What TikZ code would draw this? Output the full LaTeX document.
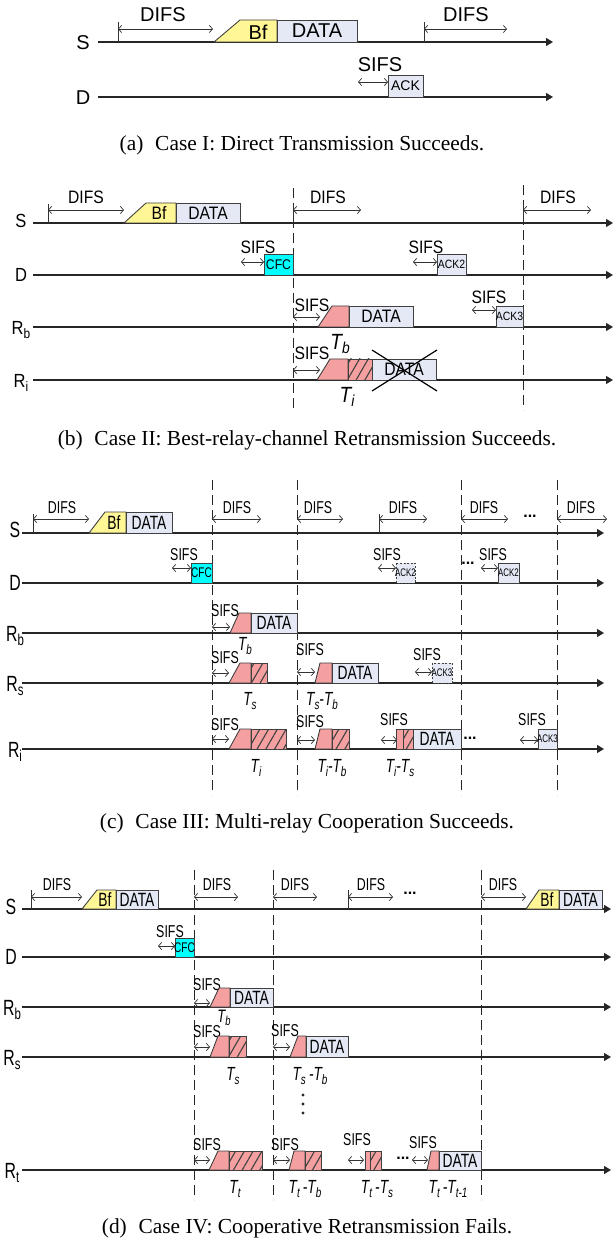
\documentclass[tikz,border=0pt]{standalone}
\usepackage{fontspec}
\usepackage{graphicx}
\setmainfont{Liberation Serif}
\newfontfamily\fA{Liberation Sans}
\newfontfamily\fB[FakeStretch=0.87]{Liberation Sans}
\newfontfamily\fC[FakeStretch=0.72]{Liberation Sans}
\usetikzlibrary{arrows.meta,patterns.meta}
\definecolor{bfy}{RGB}{255,246,150}
\definecolor{datab}{RGB}{228,233,245}
\definecolor{pnk}{RGB}{245,160,160}
\definecolor{cfc}{RGB}{0,255,255}
\newcommand\fs[1]{\fontsize{#1}{#1}\selectfont}
\newcommand\sbs[1]{\raisebox{-0.35ex}{\scalebox{0.72}{#1}}}
\tikzset{
 tl/.style={line width=0.65pt, draw=black!85, -{Triangle[length=3.5pt,width=4pt]}},
 span/.style={line width=0.35pt, draw=black!80, {Straight Barb[length=1.6pt,width=3.6pt]}-{Straight Barb[length=1.6pt,width=3.6pt]}},
 tk/.style={line width=0.45pt, draw=black!80},
 vd/.style={line width=0.5pt, draw=black!85, dash pattern=on 5pt off 2.5pt},
 bx/.style={line width=0.45pt, draw=black!75},
 dbx/.style={line width=0.45pt, draw=black!75, dash pattern=on 1pt off 0.8pt},
 every node/.style={inner sep=0pt, outer sep=0pt},
 captxt/.style={font=\fs{10.7}},
}
\newcommand\lspan[7]{\draw[span] (#1,#3) -- (#2,#3); \node[font=#7] at (#5,#6) {#4};}
\newcommand\tick[3]{\draw[tk] (#1,#2) -- (#1,#3);}
\newcommand\trap[6]{\filldraw[bx,fill=#6] (#1,#5) -- (#2,#4) -- (#3,#4) -- (#3,#5) -- cycle;}
\newcommand\rbox[7]{\filldraw[bx,fill=#5] (#1,#3) rectangle (#2,#4); \node[font=#6] at ({(#1+#2)/2},{(#3+#4)/2}) {#7};}
\newcommand\dbox[7]{\filldraw[dbx,fill=#5] (#1,#3) rectangle (#2,#4); \node[font=#6] at ({(#1+#2)/2},{(#3+#4)/2}) {#7};}
\newcommand\hbx[4]{\fill[pnk] (#1,#3) rectangle (#2,#4); \fill[pattern={Lines[angle=60,distance=3.8pt,line width=0.55pt]},pattern color=black!75] (#1,#3) rectangle (#2,#4); \draw[bx] (#1,#3) rectangle (#2,#4);}
\begin{document}
\begin{tikzpicture}[x=0.5pt,y=-0.5pt]
\useasboundingbox (0,0) rectangle (615,1240);
% ================= (a)
\def\Fa{\fA\fs{10}}
\draw[tl] (98,42) -- (553,42);
\draw[tl] (98,97) -- (553,97);
\node[font=\Fa] (Sa) at (83,43) {S};
\node[font=\Fa] (Da) at (83,98) {D};
\tick{118}{42}{22}
\lspan{118}{213}{29}{DIFS}{163}{15}{\Fa}
\trap{214}{240}{277}{20}{42}{bfy}
\node[font=\Fa] (bfa) at (258,32) {Bf};
\rbox{277}{357}{20}{42}{datab}{\Fa}{DATA}
\tick{424}{42}{22}
\lspan{424}{507}{29}{DIFS}{466}{15}{\Fa}
\lspan{358}{388}{82}{SIFS}{380}{65}{\Fa}
\rbox{388}{423}{75}{97}{datab}{\fA\fs{7}}{ACK}
\node[captxt] (capa) at (302,145) {(a)\hspace{0.55em}Case I: Direct Transmission Succeeds.};
% ================= (b)
\def\Fb{\fB\fs{9}}
\foreach \yy in {223,275,327,380} {\draw[tl] (33,\yy) -- (613,\yy);}
\node[font=\fB\fs{9.5}] (Sb) at (21,221) {S};
\node[font=\fB\fs{9.5}] (Db) at (21,275) {D};
\node[font=\fB\fs{9.5}] (Rbb) at (21,330) {R\sbs{b}};
\node[font=\fB\fs{9.5}] (Rib) at (21,383) {R\sbs{i}};
\draw[vd] (293,188) -- (293,410);
\draw[vd] (523,185) -- (523,410);
\tick{48}{223}{204}
\lspan{48}{124}{210}{DIFS}{86}{197}{\Fb}
\trap{124}{146}{176}{203}{223}{bfy}
\node[font=\Fb] (bfb) at (159,213) {Bf};
\rbox{176}{240}{203}{223}{datab}{\Fb}{DATA}
\tick{293}{223}{205}
\lspan{293}{361}{210}{DIFS}{328}{197}{\Fb}
\tick{523}{223}{205}
\lspan{523}{591}{210}{DIFS}{558}{197}{\Fb}
\lspan{241}{264}{262}{SIFS}{258}{247}{\Fb}
\rbox{264}{293}{254}{275}{cfc}{\fB\fs{7}}{CFC}
\lspan{413}{437}{262}{SIFS}{426}{247}{\Fb}
\rbox{437}{466}{254}{275}{datab}{\fB\fs{6}}{ACK2}
\lspan{293}{320}{317}{SIFS}{312}{305}{\Fb}
\trap{318}{332}{349}{306}{327}{pnk}
\rbox{349}{413}{306}{327}{datab}{\Fb}{DATA}
\node[font=\fB\itshape\fs{11}] (Tbb) at (340,344) {T\sbs{b}};
\lspan{472}{496}{310}{SIFS}{489}{297}{\Fb}
\rbox{496}{523}{306}{327}{datab}{\fB\fs{6}}{ACK3}
\lspan{293}{320}{370}{SIFS}{312}{353}{\Fb}
\trap{317}{330}{348}{359}{380}{pnk}
\hbx{348}{372}{359}{380}
\rbox{372}{436}{359}{380}{datab}{\Fb}{DATA}
\draw[line width=0.6pt] (372,350) -- (437,391);
\draw[line width=0.6pt] (372,391) -- (437,350);
\node[font=\fB\itshape\fs{11}] (Tib) at (347,397) {T\sbs{i}};
\node[captxt] (capb) at (307,440) {(b)\hspace{0.55em}Case II: Best-relay-channel Retransmission Succeeds.};
% ================= (c)
\def\Fc{\fC\fs{8.6}}
\def\Fd{\fC\fs{9.6}}
\def\Ft{\fC\itshape\fs{9.5}}
\foreach \yy in {533,583,633,683,749} {\draw[tl] (22,\yy) -- (604,\yy);}
\node[font=\fC\fs{11}] (Sc) at (15,530) {S};
\node[font=\fC\fs{11}] (Dc) at (15,583) {D};
\node[font=\fC\fs{11}] (Rbc) at (15,636) {R\sbs{b}};
\node[font=\fC\fs{11}] (Rsc) at (15,686) {R\sbs{s}};
\node[font=\fC\fs{11}] (Ric) at (15,752) {R\sbs{i}};
\foreach \xx in {212,297,461,557} {\draw[vd] (\xx,480) -- (\xx,795);}
\tick{33}{533}{514}
\lspan{33}{89}{519}{DIFS}{62}{508}{\Fc}
\trap{89}{105}{126}{512}{533}{bfy}
\node[font=\Fd] (bfc) at (114,523) {Bf};
\rbox{126}{172}{512}{533}{datab}{\Fd}{DATA}
\lspan{212}{261}{519}{DIFS}{237}{508}{\Fc}
\lspan{297}{343}{519}{DIFS}{318}{508}{\Fc}
\tick{379}{533}{514}
\lspan{379}{427}{519}{DIFS}{403}{508}{\Fc}
\lspan{461}{508}{519}{DIFS}{484}{508}{\Fc}
\node[font=\fA\bfseries\fs{8}] (dc1) at (530,516) {...};
\lspan{557}{607}{519}{DIFS}{581}{508}{\Fc}
\lspan{172}{191}{568}{SIFS}{184}{555}{\Fc}
\rbox{191}{212}{563}{583}{cfc}{\fC\fs{7}}{CFC}
\lspan{378}{396}{568}{SIFS}{387}{555}{\Fc}
\dbox{396}{415}{563}{583}{datab}{\fC\fs{5.5}}{ACK2}
\node[font=\fA\bfseries\fs{8}] (dc2) at (468,563) {...};
\lspan{481}{498}{568}{SIFS}{493}{555}{\Fc}
\rbox{498}{519}{563}{583}{datab}{\fC\fs{5.5}}{ACK2}
% Rb
\lspan{212}{230}{627}{SIFS}{225}{611}{\Fc}
\trap{230}{239}{251}{613}{633}{pnk}
\rbox{251}{297}{613}{633}{datab}{\Fd}{DATA}
\node[font=\Ft] (Tbc) at (245,646) {T\sbs{b}};
% Rs
\lspan{212}{229}{673}{SIFS}{225}{658}{\Fc}
\trap{229}{240}{251}{663}{683}{pnk}
\hbx{251}{267}{663}{683}
\node[font=\Ft] (Tsc) at (250,701) {T\sbs{s}};
\lspan{297}{315}{672}{SIFS}{310}{650}{\Fc}
\trap{315}{320}{332}{663}{683}{pnk}
\rbox{332}{378}{663}{683}{datab}{\Fd}{DATA}
\node[font=\Ft] (Tsbc) at (322,701) {T\sbs{s}-T\sbs{b}};
\lspan{415}{432}{672}{SIFS}{427}{655}{\Fc}
\dbox{432}{452}{663}{683}{datab}{\fC\fs{5.5}}{ACK3}
% Ri
\lspan{212}{229}{739}{SIFS}{225}{725}{\Fc}
\trap{229}{240}{251}{729}{749}{pnk}
\hbx{251}{286}{729}{749}
\node[font=\Ft] (Tic) at (256,768) {T\sbs{i}};
\lspan{297}{315}{740}{SIFS}{310}{722}{\Fc}
\trap{315}{320}{332}{729}{749}{pnk}
\hbx{332}{349}{729}{749}
\node[font=\Ft] (Tibc) at (332,768) {T\sbs{i}-T\sbs{b}};
\lspan{381}{397}{740}{SIFS}{394}{720}{\Fc}
\filldraw[bx,fill=pnk] (396,729) rectangle (403,749);
\hbx{403}{413}{729}{749}
\rbox{413}{461}{729}{749}{datab}{\Fd}{DATA}
\node[font=\Ft] (Tisc) at (400,768) {T\sbs{i}-T\sbs{s}};
\node[font=\fA\bfseries\fs{8}] (dc3) at (470,738) {...};
\lspan{520}{538}{740}{SIFS}{532}{720}{\Fc}
\rbox{538}{557}{729}{749}{datab}{\fC\fs{5.5}}{ACK3}
\node[captxt] (capc) at (307,823) {(c)\hspace{0.55em}Case III: Multi-relay Cooperation Succeeds.};
% ================= (d)
\foreach \yy in {909,957,1007,1057,1170} {\draw[tl] (22,\yy) -- (611,\yy);}
\node[font=\fC\fs{11}] (Sd) at (11,907) {S};
\node[font=\fC\fs{11}] (Dd) at (11,957) {D};
\node[font=\fC\fs{11}] (Rbd) at (12,1010) {R\sbs{b}};
\node[font=\fC\fs{11}] (Rsd) at (12,1060) {R\sbs{s}};
\node[font=\fC\fs{11}] (Rtd) at (12,1173) {R\sbs{t}};
\foreach \xx in {194,273,481} {\draw[vd] (\xx,870) -- (\xx,1200);}
\tick{31}{909}{890}
\lspan{31}{82}{897}{DIFS}{57}{885}{\Fc}
\trap{82}{97}{116}{890}{909}{bfy}
\node[font=\Fd] (bfd) at (105,900) {Bf};
\rbox{116}{158}{890}{909}{datab}{\Fd}{DATA}
\lspan{194}{238}{897}{DIFS}{217}{885}{\Fc}
\lspan{273}{317}{897}{DIFS}{295}{885}{\Fc}
\tick{348}{909}{890}
\lspan{348}{393}{897}{DIFS}{371}{885}{\Fc}
\node[font=\fA\bfseries\fs{8}] (dd1) at (410,893) {...};
\lspan{481}{526}{897}{DIFS}{503}{885}{\Fc}
\trap{526}{539}{559}{890}{909}{bfy}
\node[font=\Fd] (bfd2) at (547,900) {Bf};
\rbox{559}{602}{890}{909}{datab}{\Fd}{DATA}
\lspan{158}{175}{946}{SIFS}{170}{932}{\Fc}
\rbox{175}{194}{938}{957}{cfc}{\fC\fs{7}}{CFC}
% Rb
\lspan{194}{210}{1003}{SIFS}{207}{985}{\Fc}
\trap{210}{219}{230}{988}{1007}{pnk}
\rbox{230}{273}{988}{1007}{datab}{\Fd}{DATA}
\node[font=\fC\itshape\fs{9}] (Tbd) at (224,1018) {T\sbs{b}};
% Rs
\lspan{194}{210}{1047}{SIFS}{207}{1032}{\Fc}
\trap{210}{218}{229}{1036}{1057}{pnk}
\hbx{229}{246}{1036}{1057}
\node[font=\Ft] (Tsd) at (233,1076) {T\sbs{s}};
\lspan{273}{290}{1047}{SIFS}{285}{1031}{\Fc}
\trap{290}{298}{306}{1036}{1057}{pnk}
\rbox{306}{348}{1036}{1057}{datab}{\Fd}{DATA}
\node[font=\Ft] (Tsbd) at (310,1076) {T\sbs{s}\,-T\sbs{b}};
\foreach \yy in {1095,1104,1113} {\fill[black!85] (303,\yy) circle (0.8pt);}
% Rt
\lspan{194}{210}{1160}{SIFS}{207}{1145}{\Fc}
\trap{209}{218}{229}{1151}{1170}{pnk}
\hbx{229}{262}{1151}{1170}
\node[font=\Ft] (Ttd) at (235,1189) {T\sbs{t}};
\lspan{273}{290}{1160}{SIFS}{285}{1145}{\Fc}
\trap{289}{294}{305}{1151}{1170}{pnk}
\hbx{305}{321}{1151}{1170}
\node[font=\Ft] (Ttbd) at (305,1189) {T\sbs{t}\,-T\sbs{b}};
\lspan{348}{364}{1160}{SIFS}{357}{1140}{\Fc}
\filldraw[bx,fill=pnk] (365,1151) rectangle (370,1170);
\hbx{370}{381}{1151}{1170}
\node[font=\Ft] (Ttsd) at (377,1189) {T\sbs{t}\,-T\sbs{s}};
\node[font=\fA\bfseries\fs{8}] (dd2) at (403,1158) {...};
\lspan{412}{428}{1160}{SIFS}{423}{1143}{\Fc}
\trap{427}{431}{439}{1151}{1170}{pnk}
\rbox{439}{481}{1151}{1170}{datab}{\Fd}{DATA}
\node[font=\Ft] (Tttd) at (448,1189) {T\sbs{t}\,-T\sbs{t-1}};
\node[captxt] (capd) at (307,1228) {(d)\hspace{0.55em}Case IV: Cooperative Retransmission Fails.};
\end{tikzpicture}
\end{document}
